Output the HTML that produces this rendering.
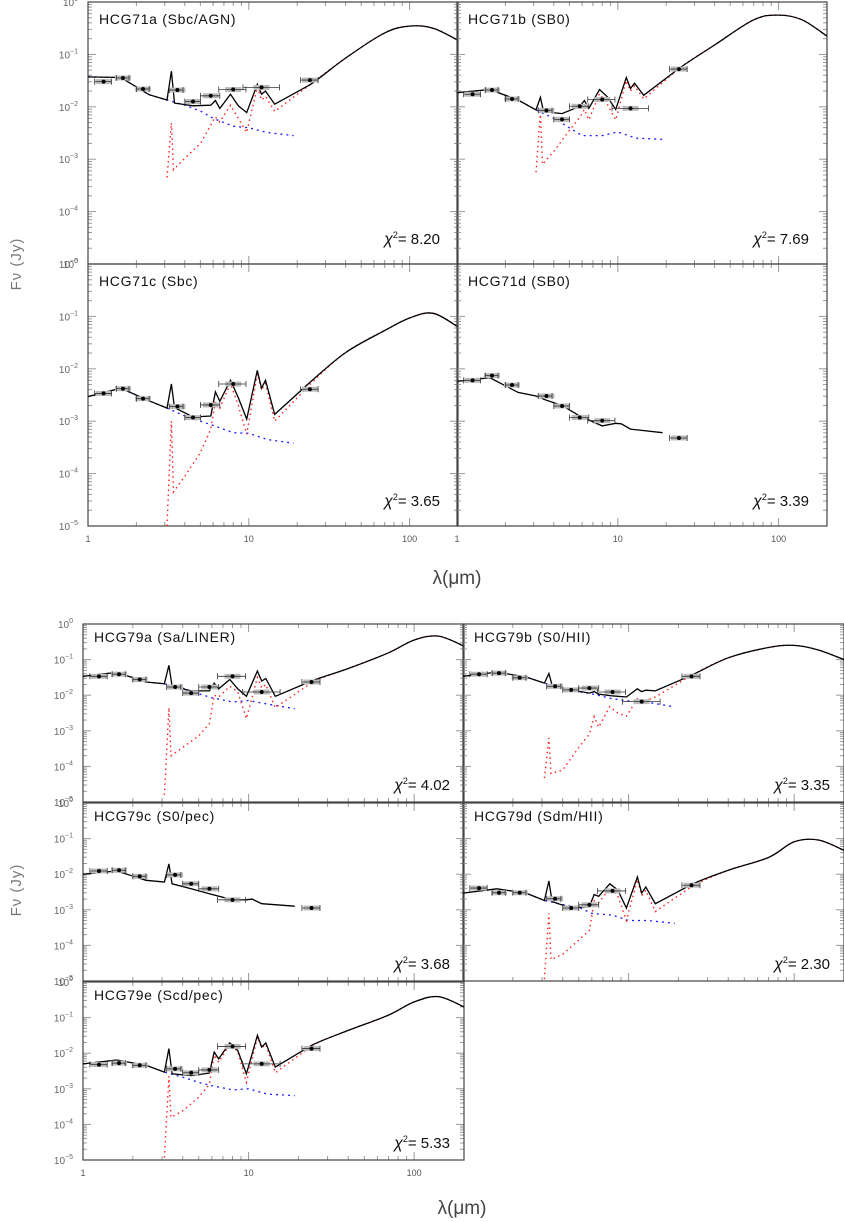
<!DOCTYPE html>
<html><head><meta charset="utf-8">
<style>
html,body{margin:0;padding:0;background:#fff;}
svg{display:block;font-family:"Liberation Sans",sans-serif;}
</style></head>
<body>
<svg id="fig" width="844" height="1222" viewBox="0 0 844 1222" xmlns="http://www.w3.org/2000/svg">
<text x="0" y="0" transform="translate(21,264) rotate(-90)" text-anchor="middle" font-size="15" letter-spacing="1" fill="#777">Fν (Jy)</text>
<text x="0" y="0" transform="translate(21,890) rotate(-90)" text-anchor="middle" font-size="15" letter-spacing="1" fill="#777">Fν (Jy)</text>
<text x="457" y="584" text-anchor="middle" font-size="19" fill="#444">λ(μm)</text>
<text x="462" y="1214" text-anchor="middle" font-size="19" fill="#444">λ(μm)</text>
</svg>
<script>
// Shared wavelength grids (micron)
const lamModel = [1,1.6,2.4,3.1,3.3,3.45,4.5,5.8,6.2,6.6,7.7,8.6,9.7,11.3,12,12.7,14.5,24,40,70,100,140,200];
const lamStar = [1,1.6,2.4,3.1,4,5,6,8,10,13,19];
const lamDust = [3.1,3.3,3.4,4,5,5.8,6.2,6.6,7.7,8.6,9.7,11.3,12,12.7,14.5,24];
const lamShort = [1,1.6,2.4,3.1,3.3,3.45,4.5,5.8,8,9.7,10.5,12,19];
const lamData = [1.25,1.65,2.2,3.6,4.5,5.8,8,12,24];
const errLo = [1.1,1.5,2.0,3.2,4.0,5.0,6.5,9.2,21];
const errHi = [1.4,1.8,2.4,3.9,5.0,6.6,9.6,15.5,27];

// log10 flux values per galaxy
const m71a = [-1.43,-1.44,-1.77,-1.87,-1.32,-1.93,-1.98,-1.97,-1.88,-2.03,-1.76,-1.98,-2.11,-1.57,-1.76,-1.70,-1.95,-1.58,-1.07,-0.59,-0.46,-0.50,-0.73];
const s71a = [-1.43,-1.44,-1.77,-1.87,-1.97,-2.08,-2.22,-2.37,-2.40,-2.49,-2.55];
const d71a = [-3.35,-2.31,-3.2,-2.98,-2.7,-2.35,-2.19,-2.29,-1.97,-2.22,-2.49,-1.62,-1.87,-1.80,-2.09,-1.58];
const p71a = [-1.52,-1.45,-1.66,-1.68,-1.90,-1.79,-1.67,-1.63,-1.49];

const m71b = [-1.73,-1.67,-1.87,-2.06,-1.82,-2.09,-2.13,-1.99,-1.88,-2.03,-1.67,-1.81,-2.05,-1.44,-1.65,-1.55,-1.78,-1.27,-0.82,-0.34,-0.25,-0.34,-0.65];
const s71b = [-1.73,-1.67,-1.87,-2.06,-2.22,-2.40,-2.55,-2.55,-2.48,-2.60,-2.62];
const d71b = [-3.25,-2.1,-3.1,-2.85,-2.45,-2.2,-2.05,-2.25,-1.75,-1.95,-2.25,-1.5,-1.7,-1.6,-1.85,-1.27];
const p71b = [-1.76,-1.68,-1.85,-2.07,-2.24,-1.99,-1.86,-2.03,-1.28];

const m71c = [-2.53,-2.37,-2.61,-2.75,-2.29,-2.74,-2.92,-2.90,-2.44,-2.62,-2.22,-2.55,-2.96,-2.03,-2.37,-2.22,-2.87,-2.26,-1.69,-1.27,-1.03,-0.94,-1.20];
const s71c = [-2.53,-2.37,-2.61,-2.75,-2.90,-3.00,-3.08,-3.22,-3.23,-3.35,-3.42];
const d71c = [-5.0,-3.0,-4.35,-4.05,-3.6,-3.15,-2.62,-2.75,-2.28,-2.7,-3.25,-2.1,-2.4,-2.28,-3.0,-2.3];
const p71c = [-2.47,-2.38,-2.57,-2.72,-2.93,-2.69,-2.29,null,-2.39];

const m71d = [-2.24,-2.17,-2.45,-2.52,-2.55,-2.58,-2.70,-2.90,-3.09,-3.04,-3.05,-3.15,-3.22];
const p71d = [-2.22,-2.13,-2.31,-2.52,-2.71,-2.93,-2.99,null,-3.32];

const m79a = [-1.47,-1.36,-1.63,-1.68,-1.16,-1.75,-1.88,-1.88,-1.66,-1.82,-1.56,-1.82,-2.03,-1.32,-1.60,-1.53,-2.03,-1.60,-1.25,-0.81,-0.45,-0.34,-0.62];
const s79a = [-1.47,-1.36,-1.63,-1.68,-1.80,-1.96,-2.07,-2.19,-2.15,-2.25,-2.38];
const d79a = [-4.8,-2.35,-3.7,-3.47,-3.14,-2.8,-2.0,-2.05,-1.75,-1.9,-2.66,-1.5,-1.8,-1.7,-2.35,-1.65];
const p79a = [-1.47,-1.41,-1.56,-1.77,-1.94,-1.77,-1.47,-1.91,-1.63];

const m79b = [-1.47,-1.35,-1.49,-1.66,-1.39,-1.72,-1.85,-1.94,-1.90,-1.97,-2.01,-2.03,-2.05,-1.82,-1.90,-1.86,-1.88,-1.44,-0.95,-0.66,-0.60,-0.73,-1.00];
const s79b = [-1.47,-1.35,-1.49,-1.66,-1.80,-1.90,-1.96,-2.10,-2.16,-2.20,-2.33];
const d79b = [-4.33,-3.2,-4.2,-4.1,-3.47,-3.09,-2.6,-2.9,-2.32,-2.5,-2.59,-2.1,-2.2,-2.15,-2.05,-1.44];
const p79b = [-1.41,-1.38,-1.51,-1.75,-1.85,-1.80,-1.91,-2.18,-1.47];

const m79c = [-2.00,-1.91,-2.17,-2.22,-1.71,-2.27,-2.41,-2.55,-2.72,-2.72,-2.70,-2.83,-2.90];
const p79c = [-1.91,-1.89,-2.06,-2.02,-2.27,-2.41,-2.72,null,-2.95];

const m79d = [-2.53,-2.41,-2.53,-2.74,-2.19,-2.77,-2.95,-2.91,-2.57,-2.62,-2.27,-2.44,-2.95,-2.08,-2.53,-2.36,-2.83,-2.29,-1.89,-1.53,-1.09,-1.04,-1.33];
const s79d = [-2.53,-2.41,-2.53,-2.74,-2.85,-2.93,-3.10,-3.15,-3.30,-3.30,-3.38];
const d79d = [-4.95,-3.1,-4.4,-4.25,-3.85,-3.58,-2.75,-2.8,-2.4,-2.6,-3.3,-2.15,-2.6,-2.45,-3.05,-2.35];
const p79d = [-2.39,-2.52,-2.52,-2.69,-2.95,-2.86,-2.47,null,-2.31];

const m79e = [-2.30,-2.19,-2.34,-2.53,-1.87,-2.58,-2.63,-2.56,-1.97,-2.16,-1.71,-1.92,-2.58,-1.50,-1.83,-1.71,-2.39,-1.78,-1.36,-0.93,-0.56,-0.41,-0.70];
const s79e = [-2.30,-2.19,-2.34,-2.53,-2.67,-2.82,-2.91,-3.03,-3.00,-3.15,-3.19];
const d79e = [-4.93,-2.65,-3.8,-3.62,-3.24,-2.87,-2.05,-2.25,-1.75,-1.95,-2.82,-1.55,-1.85,-1.75,-2.55,-1.8];
const p79e = [-2.32,-2.28,-2.34,-2.44,-2.55,-2.47,-1.81,-2.30,-1.87];

const titles = ["HCG71a (Sbc/AGN)","HCG71b (SB0)","HCG71c (Sbc)","HCG71d (SB0)","HCG79a (Sa/LINER)","HCG79b (S0/HII)","HCG79c (S0/pec)","HCG79d (Sdm/HII)","HCG79e (Scd/pec)"];
const chis = ["8.20","7.69","3.65","3.39","4.02","3.35","3.68","2.30","5.33"];

const NS = "http://www.w3.org/2000/svg";
const svg = document.getElementById('fig');
function mk(tag, attrs, parent){
  const e = document.createElementNS(NS, tag);
  for (const k in attrs) e.setAttribute(k, attrs[k]);
  (parent||svg).appendChild(e);
  return e;
}
const XMAX = Math.log10(200);

const panels = [
 {id:'hcg71a', x0:88, y0:2, w:370, h:262, ylab:true, xlab:false, m:m71a, lm:lamModel, s:s71a, d:d71a, p:p71a, big:true},
 {id:'hcg71b', x0:457, y0:2, w:370, h:262, ylab:false, xlab:false, m:m71b, lm:lamModel, s:s71b, d:d71b, p:p71b, big:true},
 {id:'hcg71c', x0:88, y0:264, w:370, h:262, ylab:true, xlab:true, m:m71c, lm:lamModel, s:s71c, d:d71c, p:p71c, big:true},
 {id:'hcg71d', x0:457, y0:264, w:370, h:262, ylab:false, xlab:true, m:m71d, lm:lamShort, s:null, d:null, p:p71d, big:true},
 {id:'hcg79a', x0:83, y0:624, w:381, h:178, ylab:true, xlab:false, m:m79a, lm:lamModel, s:s79a, d:d79a, p:p79a},
 {id:'hcg79b', x0:463, y0:624, w:381, h:178, ylab:false, xlab:false, m:m79b, lm:lamModel, s:s79b, d:d79b, p:p79b},
 {id:'hcg79c', x0:83, y0:803, w:381, h:178, ylab:true, xlab:false, m:m79c, lm:lamShort, s:null, d:null, p:p79c},
 {id:'hcg79d', x0:463, y0:803, w:381, h:178, ylab:false, xlab:false, m:m79d, lm:lamModel, s:s79d, d:d79d, p:p79d},
 {id:'hcg79e', x0:83, y0:982, w:381, h:178, ylab:true, xlab:true, m:m79e, lm:lamModel, s:s79e, d:d79e, p:p79e},
];

// build path; points from index `smoothFrom` on are joined with Catmull-Rom curves
function buildPath(pts, smoothFrom){
  let s = '';
  for (let j=0; j<pts.length; j++){
    const [x,y] = pts[j];
    if (j===0){ s += 'M'+x.toFixed(1)+','+y.toFixed(1); continue; }
    if (j-1 >= smoothFrom){
      const p0 = pts[Math.max(j-2,0)], p1 = pts[j-1], p2 = pts[j], p3 = pts[Math.min(j+1,pts.length-1)];
      const c1x = p1[0]+(p2[0]-p0[0])/6, c1y = p1[1]+(p2[1]-p0[1])/6;
      const c2x = p2[0]-(p3[0]-p1[0])/6, c2y = p2[1]-(p3[1]-p1[1])/6;
      s += 'C'+c1x.toFixed(1)+','+c1y.toFixed(1)+' '+c2x.toFixed(1)+','+c2y.toFixed(1)+' '+x.toFixed(1)+','+y.toFixed(1);
    } else s += 'L'+x.toFixed(1)+','+y.toFixed(1);
  }
  return s;
}

panels.forEach((P, i) => {
  const g = mk('g', {});
  
  
  const sx = l => P.x0 + Math.log10(l) / XMAX * P.w;
  const sy = v => P.y0 + (-v) / 5 * P.h;
  const clipId = 'c' + i;
  const cp = mk('clipPath', {id: clipId}, g);
  mk('rect', {x:P.x0, y:P.y0, width:P.w, height:P.h}, cp);

  const tk = mk('g', {stroke:'#999', 'stroke-width':1}, g);
  
  
  for (let dec=0; dec<3; dec++) for (let k=1; k<10; k++) {
    const v = k*Math.pow(10,dec); if (v>200) break;
    const x = sx(v), L = k===1?8:4;
    mk('line',{x1:x,x2:x,y1:P.y0+P.h,y2:P.y0+P.h-L},tk);
    mk('line',{x1:x,x2:x,y1:P.y0,y2:P.y0+L},tk);
  }
  for (let dec=-5; dec<0; dec++) for (let k=1; k<10; k++) {
    const y = sy(dec + Math.log10(k)), L = k===1?8:4;
    mk('line',{x1:P.x0,x2:P.x0+L,y1:y,y2:y},tk);
    mk('line',{x1:P.x0+P.w,x2:P.x0+P.w-L,y1:y,y2:y},tk);
  }
  const fr = mk('rect',{x:P.x0,y:P.y0,width:P.w,height:P.h,fill:'none',stroke:'#444','stroke-width':1.2},g);
  
  

  if (P.ylab) {
    for (let e=0; e>=-5; e--) {
      const t = mk('text',{x:P.x0-10,y:sy(e)+4,'text-anchor':'end','font-size':10,fill:'#666'},g);
      
      
      t.textContent = '10';
      const sp = mk('tspan',{dy:-5,'font-size':7},t);
      sp.textContent = e===0 ? '0' : '−' + (-e);
    }
  }
  if (P.xlab) {
    [1,10,100].forEach(v => {
      const t = mk('text',{x:sx(v),y:P.y0+P.h+16,'text-anchor':'middle','font-size':9,fill:'#555'},g);
      
      
      t.textContent = String(v);
    });
  }

  const inner = mk('g',{'clip-path':'url(#'+clipId+')'},g);
  const pts = (lams, vals) => vals.map((v,j)=>[sx(lams[j]), sy(v)]);

  if (P.s) {
    const b = mk('path',{d:buildPath(pts(lamStar,P.s),99),fill:'none',stroke:'#1a1aff','stroke-width':1.3,'stroke-dasharray':'2,4'},inner);
    
    
  }
  if (P.d) {
    const dp = pts(lamDust,P.d).concat(pts(lamModel.slice(18), P.m.slice(18)));
    const r = mk('path',{d:buildPath(dp,15),fill:'none',stroke:'#ff2020','stroke-width':1.4,'stroke-dasharray':'1.5,3.5'},inner);
    
    
  }
  const mline = mk('path',{d:buildPath(pts(P.lm,P.m), P.lm.length>20?17:99),fill:'none',stroke:'#000','stroke-width':1.3},inner);
  
  

  P.p.forEach((v,j) => {
    if (v===null) return;
    const pg = mk('g',{},inner);
    
    
    const x = sx(lamData[j]), y = sy(v);
    mk('rect',{x:x-8,y:y-2.5,width:16,height:5,fill:'#bbb'},pg);
    const xl = sx(errLo[j]), xh = sx(errHi[j]);
    mk('line',{x1:xl,x2:xh,y1:y,y2:y,stroke:'#333','stroke-width':0.8},pg);
    mk('line',{x1:xl,x2:xl,y1:y-3,y2:y+3,stroke:'#333','stroke-width':0.8},pg);
    mk('line',{x1:xh,x2:xh,y1:y-3,y2:y+3,stroke:'#333','stroke-width':0.8},pg);
    mk('circle',{cx:x,cy:y,r:2,fill:'#000'},pg);
  });

  const tt = mk('text',{x:P.x0+11,y:P.y0+(P.big?22:18),'font-size':14,'letter-spacing':0.7,fill:'#111'},g);
  
  
  tt.textContent = titles[i];

  const ct = mk('text',{x:P.x0+P.w-(P.big?18:14),y:P.y0+P.h-(P.big?20:12),'text-anchor':'end','font-size':15,fill:'#111'},g);
  
  
  const t1 = mk('tspan',{'font-style':'italic','font-size':16},ct); t1.textContent='χ';
  const t2 = mk('tspan',{dy:-6,'font-size':9},ct); t2.textContent='2';
  const t3 = mk('tspan',{dy:6},ct); t3.textContent='= ' + chis[i];
});
</script>
</body></html>
